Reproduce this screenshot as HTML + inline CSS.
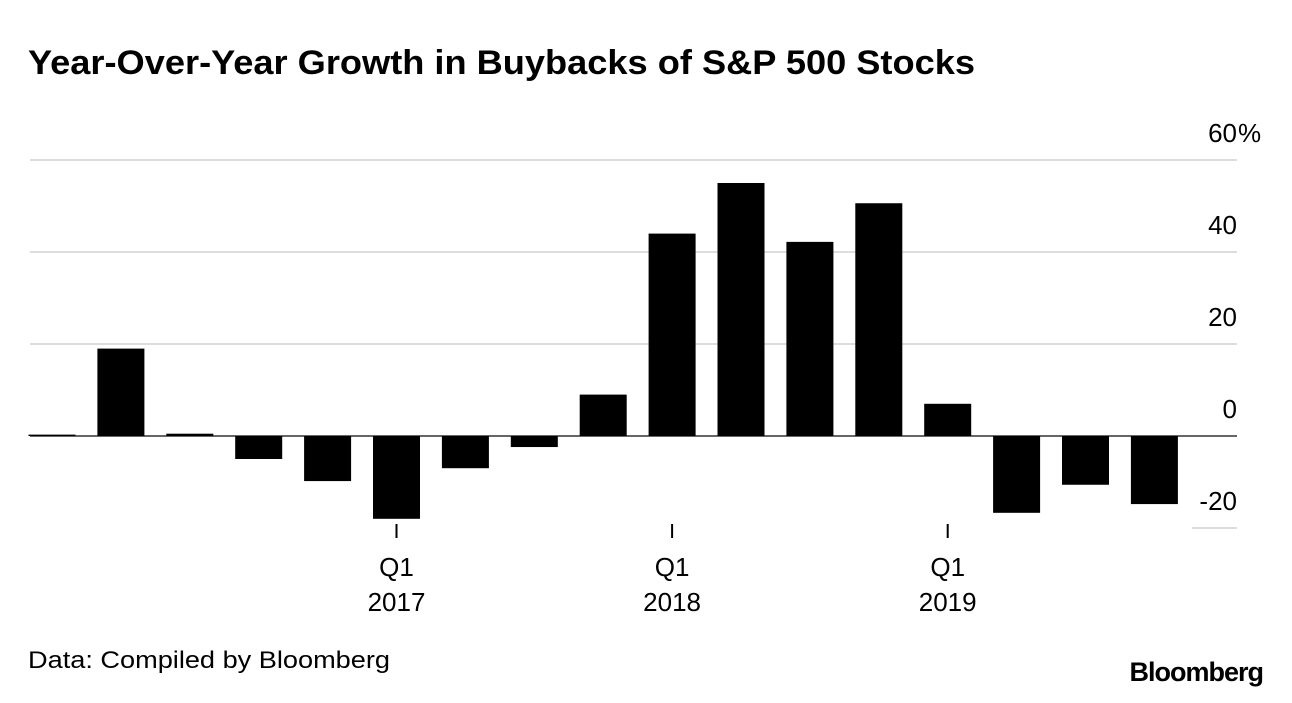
<!DOCTYPE html>
<html><head><meta charset="utf-8"><style>
body{margin:0;background:#fff;width:1292px;height:698px;overflow:hidden;font-family:"Liberation Sans",sans-serif}
</style></head><body>
<svg width="1292" height="698" xmlns="http://www.w3.org/2000/svg">
<text x="28" y="74" font-size="34" font-weight="bold" fill="#000" textLength="947" lengthAdjust="spacingAndGlyphs">Year-Over-Year Growth in Buybacks of S&amp;P 500 Stocks</text>
<g id="grid"></g><g id="bars"></g><g id="xaxis"></g>
<text x="28" y="668" font-size="24" fill="#000" textLength="362" lengthAdjust="spacingAndGlyphs">Data: Compiled by Bloomberg</text>
<text x="1263" y="681" font-size="27" font-weight="bold" text-anchor="end" fill="#000" letter-spacing="-1">Bloomberg</text>
</svg>
<script>
const quarters=["Q1 2016","Q2 2016","Q3 2016","Q4 2016","Q1 2017","Q2 2017","Q3 2017","Q4 2017","Q1 2018","Q2 2018","Q3 2018","Q4 2018","Q1 2019","Q2 2019","Q3 2019","Q4 2019","Q1 2020"];
const values=[0.3,19,0.5,-5,-9.8,-18,-7,-2.4,9,44,55,42.2,50.6,7,-16.7,-10.6,-14.8];
const yTicks=[60,40,20,0,-20];
const yTickLabels=["60","40","20","0","-20"];
const xTickIdx=[5,9,13];
const xTickLabels=[["Q1","2017"],["Q1","2018"],["Q1","2019"]];
const NS="http://www.w3.org/2000/svg";
const y=v=>436-v*4.6;
const x=i=>52+i*68.9;
const bw=47;
function mk(tag,attrs,parent){const e=document.createElementNS(NS,tag);for(const k in attrs)e.setAttribute(k,attrs[k]);parent.appendChild(e);return e;}
const grid=document.getElementById('grid'),bars=document.getElementById('bars'),xa=document.getElementById('xaxis');
yTicks.forEach((t,i)=>{
  let x1=30;if(t<0)x1=1192;
  const l=mk('line',{x1:x1,x2:1237,y1:y(t),y2:y(t),stroke:t===0?'#333':'#ddd','stroke-width':t===0?1.5:2},grid);
  
  
  const tx=mk('text',{x:1237,y:y(t)-18,'font-size':26,'text-anchor':'end',fill:'#000'},grid);
  tx.textContent=yTickLabels[i];
  
  
  if(i===0){
    const p=mk('text',{x:1238,y:y(t)-18,'font-size':26,fill:'#000'},grid);
    p.textContent='%';
    
    
  }
});
values.forEach((v,i)=>{
  const top=Math.min(y(v),y(0)),h=Math.max(Math.abs(y(v)-y(0)),1);
  const r=mk('rect',{x:x(i)-bw/2,y:top,width:bw,height:h,fill:'#000'},bars);
  
  
});
xTickIdx.forEach((idx,j)=>{
  const cx=x(idx);
  const l=mk('line',{x1:cx,x2:cx,y1:524,y2:538,stroke:'#000','stroke-width':2},xa);
  
  
  xTickLabels[j].forEach((s,k)=>{
    const t=mk('text',{x:cx,y:576+k*35,'font-size':26,'text-anchor':'middle',fill:'#000'},xa);
    t.textContent=s;
    
    
  });
});
</script>
</body></html>
